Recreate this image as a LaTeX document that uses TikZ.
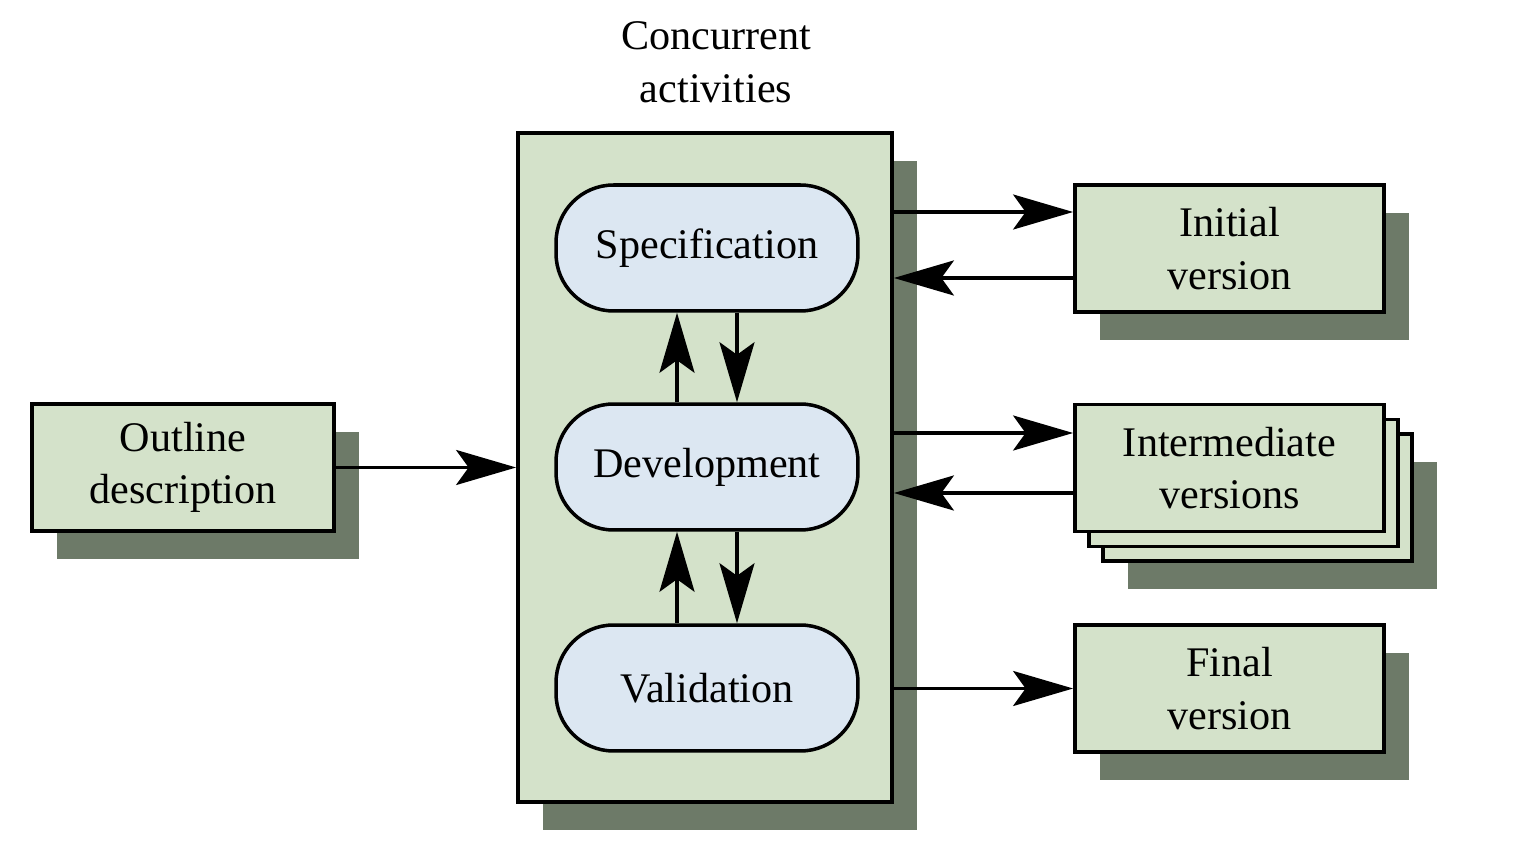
\documentclass[tikz,border=0pt]{standalone}
\usepackage{fontspec}
\setmainfont{Liberation Serif}
\usetikzlibrary{arrows.meta,shadows}
\definecolor{boxgreen}{HTML}{D4E2CA}
\definecolor{ovalblue}{HTML}{DCE7F2}
\definecolor{shade}{HTML}{6D7A68}
\begin{document}
\begin{tikzpicture}[x=0.02cm, y=-0.02cm,
    every node/.style={font=\fontsize{24}{30}\selectfont, align=center},
    box/.style={draw, line width=2.2pt, fill=boxgreen, minimum width=6.18cm, minimum height=2.54cm},
    shd/.style={drop shadow={shadow xshift=0.5cm, shadow yshift=-0.56cm, fill=shade, opacity=1}},
    oval/.style={draw, line width=2pt, fill=ovalblue, rounded corners=1.15cm, minimum width=6.04cm, minimum height=2.52cm},
    flow/.style={line width=2pt, -{Stealth[length=12mm, width=7mm, inset=2.5mm]}}]
    \useasboundingbox (0, 0) rectangle (1539, 857);
    \node (title) at (716, 62) {Concurrent\\activities};
    \node[box, shd, minimum width=7.48cm, minimum height=13.38cm] (conc) at (705, 467.5) {};
    \node[oval] (spec) at (707, 248) {Specification};
    \node[oval] (dev)  at (707, 467) {Development};
    \node[oval] (val)  at (707, 688) {Validation};
    \node[box, shd, minimum width=6.04cm] (outline) at (183, 467.5) {Outline\\description};
    \node[box, shd] (init) at (1229.5, 248.5) {Initial\\version};
    \node[box, shd] (inter3) at (1257.5, 497.5) {};
    \node[box] (inter2) at (1243.5, 483) {};
    \node[box] (inter) at (1229.5, 468) {Intermediate\\versions};
    \node[box, shd] (final) at (1229.5, 688.5) {Final\\version};
    \draw[flow] ([xshift=-6mm]dev.north) -- ([xshift=-6mm]spec.south);
    \draw[flow] ([xshift=6mm]spec.south) -- ([xshift=6mm]dev.north);
    \draw[flow] ([xshift=-6mm]val.north) -- ([xshift=-6mm]dev.south);
    \draw[flow] ([xshift=6mm]dev.south) -- ([xshift=6mm]val.north);
    \draw[flow] (outline.east) -- (outline.east -| conc.west);
    \draw[flow] ([yshift=7.3mm]init.west -| conc.east) -- ([yshift=7.3mm]init.west);
    \draw[flow] ([yshift=-5.9mm]init.west) -- ([yshift=-5.9mm]init.west -| conc.east);
    \draw[flow] ([yshift=7mm]inter.west -| conc.east) -- ([yshift=7mm]inter.west);
    \draw[flow] ([yshift=-5mm]inter.west) -- ([yshift=-5mm]inter.west -| conc.east);
    \draw[flow] (final.west -| conc.east) -- (final.west);
\end{tikzpicture}
\end{document}
